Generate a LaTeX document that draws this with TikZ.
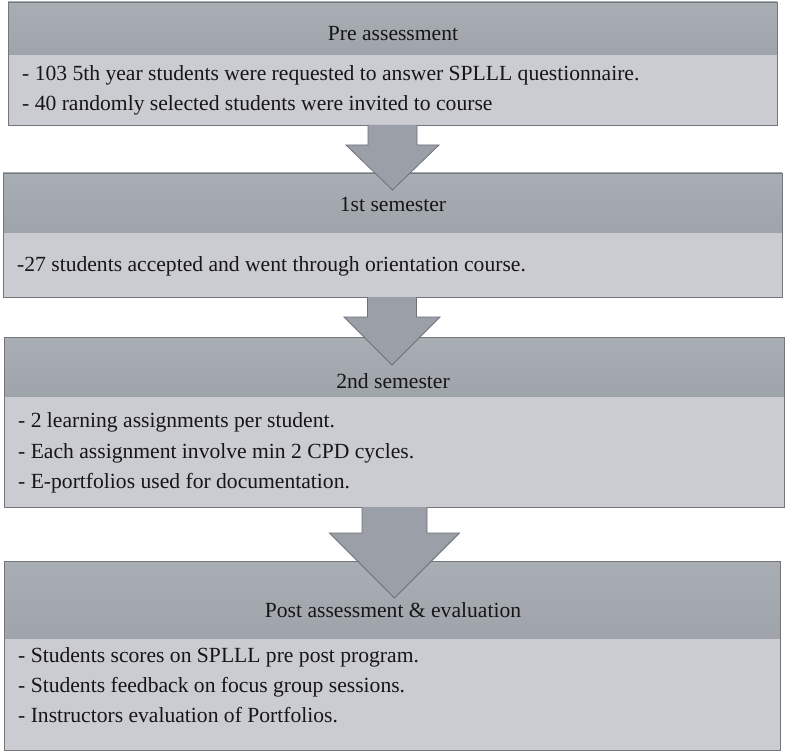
\documentclass[tikz,border=0pt]{standalone}
\usepackage{fontspec}
\setmainfont{Liberation Serif}
\begin{document}
\begin{tikzpicture}[x=1pt,y=-1pt,
  hdrfill/.style={top color=hdrtop,bottom color=hdrbot,draw=none},
  bodyfill/.style={fill=bodyc,draw=none},
  frame/.style={draw=edgec,line width=1pt},
  title/.style={font=\fontsize{21.6}{25}\selectfont,text=txtc,anchor=base,inner sep=0pt},
  item/.style={font=\fontsize{21.6}{25}\selectfont,text=txtc,anchor=base west,inner sep=0pt},
  blockarrow/.style={fill=arrc,draw=arredge,line width=0.8pt,line join=miter}]
\definecolor{hdrtop}{HTML}{A9ADB4}
\definecolor{hdrbot}{HTML}{9FA3AA}
\definecolor{bodyc}{HTML}{CBCCD1}
\definecolor{edgec}{HTML}{74767B}
\definecolor{arrc}{HTML}{9B9FA7}
\definecolor{arredge}{HTML}{6E7178}
\definecolor{txtc}{HTML}{161616}
\useasboundingbox (0,0) rectangle (787,754);
\fill[white] (0,0) rectangle (787,754);

% box 1
\fill[hdrfill] (8,2) rectangle (777,55);
\fill[bodyfill] (8,55) rectangle (777,125);
\node[frame,minimum width=769pt,minimum height=123pt,anchor=north west,inner sep=0pt] (b1) at (8,2) {};
\node[title] (t1) at (393,41) {Pre assessment};
\node[item] (l11) at (22,81) {- 103 5th year students were requested to answer SPLLL questionnaire.};
\node[item] (l12) at (22,111) {- 40 randomly selected students were invited to course};

% box 2
\fill[hdrfill] (3,173) rectangle (782,233);
\fill[bodyfill] (3,233) rectangle (782,297);
\node[frame,minimum width=779pt,minimum height=124pt,anchor=north west,inner sep=0pt] (b2) at (3,173) {};
\node[title] (t2) at (393,212) {1st semester};
\node[item] (l21) at (17,271) {-27 students accepted and went through orientation course.};

% box 3
\fill[hdrfill] (4,337) rectangle (784,397);
\fill[bodyfill] (4,397) rectangle (784,507);
\node[frame,minimum width=780pt,minimum height=170pt,anchor=north west,inner sep=0pt] (b3) at (4,337) {};
\node[title] (t3) at (393,388) {2nd semester};
\node[item] (l31) at (18,427) {- 2 learning assignments per student.};
\node[item] (l32) at (18,458) {- Each assignment involve min 2 CPD cycles.};
\node[item] (l33) at (18,488) {- E-portfolios used for documentation.};

% box 4
\fill[hdrfill] (4,561) rectangle (780,639);
\fill[bodyfill] (4,639) rectangle (780,750);
\node[frame,minimum width=776pt,minimum height=189pt,anchor=north west,inner sep=0pt] (b4) at (4,561) {};
\node[title] (t4) at (393,617) {Post assessment \& evaluation};
\node[item] (l41) at (18,662) {- Students scores on SPLLL pre post program.};
\node[item] (l42) at (18,692) {- Students feedback on focus group sessions.};
\node[item] (l43) at (18,722) {- Instructors evaluation of Portfolios.};

% block arrows
\coordinate (a1) at (392.5,125);
\draw[blockarrow] (a1) ++(-24.5,0) -- ++(0,20) -- ++(-22,0) -- (392.5,190) -- (439,145) -- ++(-22,0) -- ++(0,-20);
\coordinate (a2) at (392,297);
\draw[blockarrow] (a2) ++(-24.5,0) -- ++(0,20) -- ++(-23.5,0) -- (392,365) -- (440,317) -- ++(-23.5,0) -- ++(0,-20);
\coordinate (a3) at (394.5,507);
\draw[blockarrow] (a3) ++(-32.5,0) -- ++(0,26) -- ++(-32.5,0) -- (394.5,598) -- (459.5,533) -- ++(-32.5,0) -- ++(0,-26);
\end{tikzpicture}
\end{document}
